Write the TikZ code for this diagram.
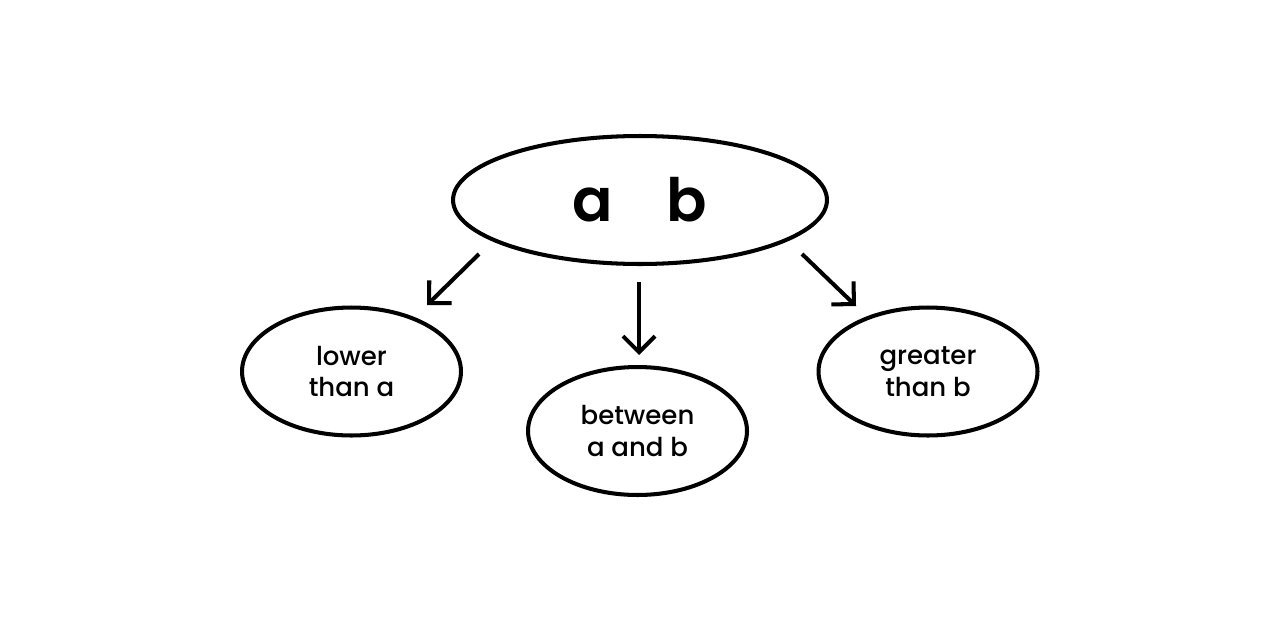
\documentclass[tikz,border=0pt]{standalone}
\usepackage{fontspec}
\setmainfont{Poppins}[UprightFont={* Medium}, BoldFont={* SemiBold}]
\usepackage{tikz}
\usetikzlibrary{arrows.meta}
\usetikzlibrary{shapes.geometric}

\begin{document}
\begin{tikzpicture}[x=0.02cm, y=-0.02cm,
    case/.style = {ellipse, draw, line width=2.3pt, inner sep=0pt,
      minimum width=4.38cm, minimum height=2.56cm,
      align=center, font=\fontsize{14.8}{18}\selectfont},
    choice/.style = {-{Straight Barb[length=3.2mm, width=6.4mm]}, line width=2.3pt}]
    \useasboundingbox (0,0) rectangle (1280,632);
    \node[case, minimum width=7.48cm, minimum height=2.56cm,
      font=\fontsize{34}{40}\selectfont\bfseries] (ab) at (640,200) {a\hspace{0.9em}b};
    \node[case] (lower) at (351.5,371.5) {lower\\than a};
    \node[case] (between) at (637.5,431) {between\\a and b};
    \node[case] (greater) at (928,371.5) {greater\\than b};
    % arrow ends
    \coordinate (l1) at (479,254);
    \coordinate (l2) at (427,305);
    \coordinate (m1) at (639,282);
    \coordinate (m2) at (639,355);
    \coordinate (r1) at (802,254);
    \coordinate (r2) at (856,306);
    \draw[choice] (l1) -- (l2);
    \draw[choice] (m1) -- (m2);
    \draw[choice] (r1) -- (r2);
\end{tikzpicture}
\end{document}
